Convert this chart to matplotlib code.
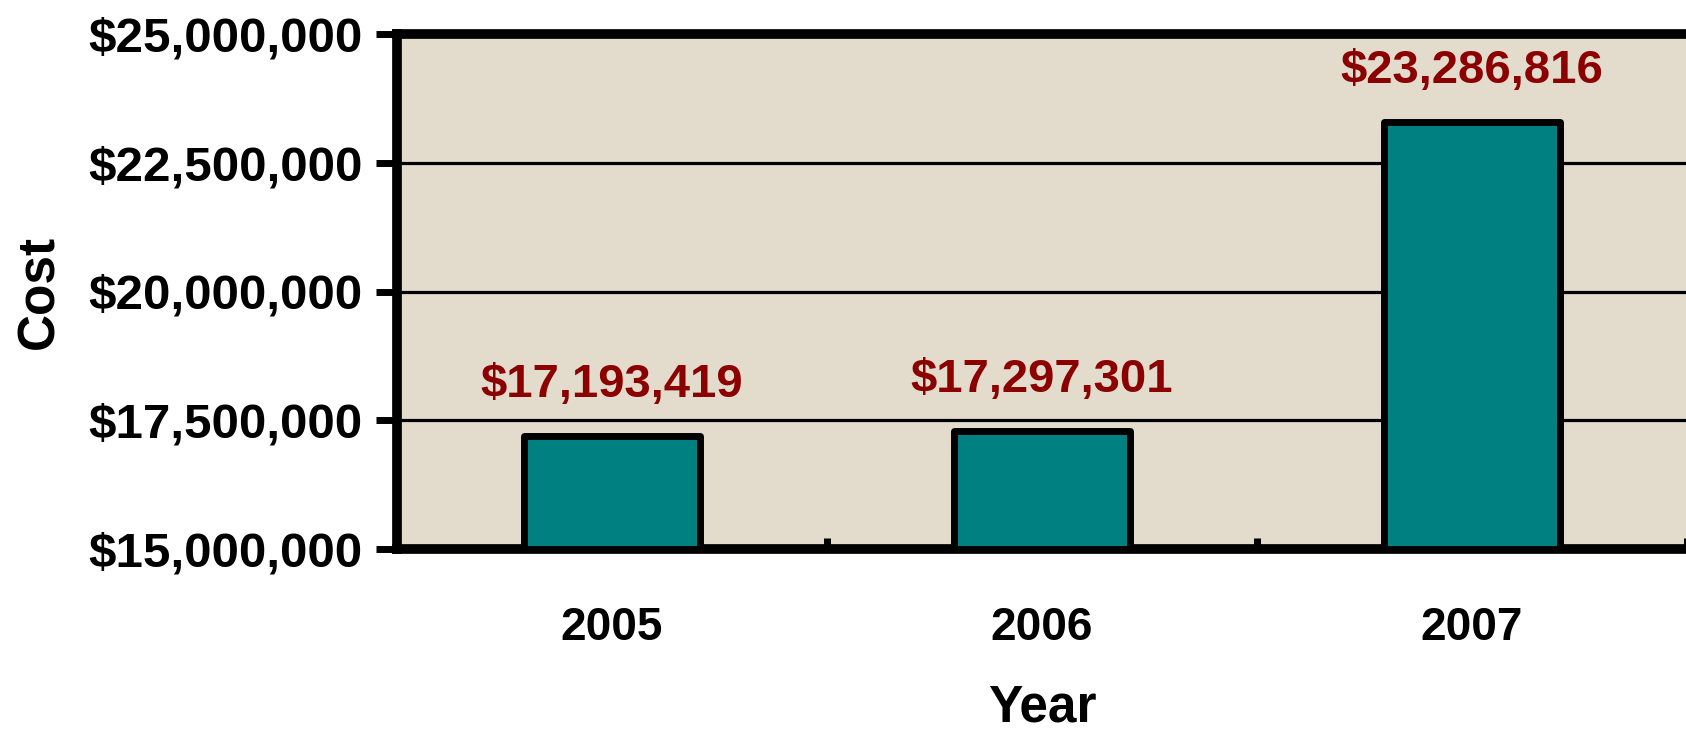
import numpy as np
import matplotlib
matplotlib.use('Agg')
import matplotlib.pyplot as plt
from matplotlib.ticker import FuncFormatter, FixedLocator

years = ['2005', '2006', '2007']
cost = [17193419, 17297301, 23286816]

plt.rcParams['font.family'] = ['Liberation Sans', 'DejaVu Sans']
plt.rcParams['font.weight'] = 'bold'

fig = plt.figure(figsize=(16.86, 7.35), dpi=100)
ax = fig.add_axes([397/1686, 1-549/735, 1290/1686, 515/735])
ax.set_facecolor('#e3dbcc')

x = np.arange(len(years))
ax.bar(x, np.array(cost) - 15000000, bottom=15000000, width=0.41,
       color='#008080', edgecolor='black', linewidth=5, zorder=3,
       joinstyle='round')

for xi, v in zip(x, cost):
    ax.annotate('${:,}'.format(v), (xi, v), xytext=(0, 21), textcoords='offset points',
                ha='center', va='bottom', color='#8b0000', fontsize=34, fontweight='bold')

ax.set_ylim(15000000, 25000000)
ax.set_xlim(-0.5, 2.5)
ax.set_yticks(np.arange(15000000, 25000001, 2500000))
ax.yaxis.set_major_formatter(FuncFormatter(lambda v, p: '${:,.0f}'.format(v)))
ax.grid(axis='y', color='black', linewidth=2.3, zorder=1)

ax.set_xticks(x)
ax.set_xticklabels(years)
ax.xaxis.set_minor_locator(FixedLocator([0.5, 1.5, 2.5]))
ax.tick_params(axis='x', which='major', length=0, pad=41, labelsize=33)
ax.tick_params(axis='x', which='minor', direction='in', length=8, width=5)
ax.tick_params(axis='y', direction='out', length=15, width=5, pad=10, labelsize=35.5)

for s in ['left', 'top', 'bottom']:
    ax.spines[s].set_linewidth(7)
ax.spines['right'].set_visible(False)

ax.set_xlabel('Year', fontsize=37, fontweight='bold')
ax.xaxis.set_label_coords(0.5, -0.262)
ax.set_ylabel('Cost', fontsize=37, fontweight='bold')
ax.yaxis.set_label_coords(-0.258, 0.5)

plt.savefig('out.png', dpi=100)
plt.close()
